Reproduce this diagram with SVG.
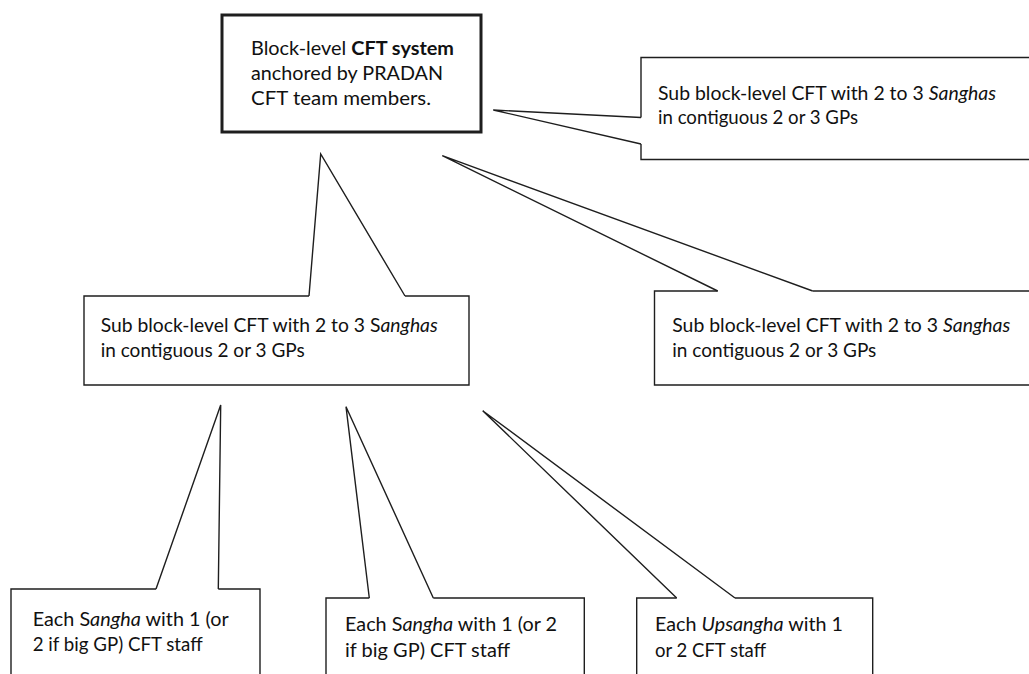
<svg xmlns="http://www.w3.org/2000/svg" width="1029" height="674" viewBox="0 0 1029 674">
<style>
.bg{fill:#ffffff;stroke:none}
.ol{fill:none;stroke:#1e1e1e;stroke-width:1.4;stroke-linejoin:miter}
.thick{fill:#ffffff;stroke:#1e1e1e;stroke-width:3}
.tail{fill:none;stroke:#1e1e1e;stroke-width:1.4;stroke-linejoin:miter}
.t{font-family:Lato,"Liberation Sans",Arial,sans-serif;font-size:18.5px;fill:#111111}
.i{font-style:italic}
.b{font-weight:bold}
</style>
<rect x="0" y="0" width="1029" height="674" fill="#ffffff"/>
<g id="node-block">
<rect class="thick" x="222" y="15" width="259" height="117"/>
<text class="t" x="251" y="55" textLength="203" lengthAdjust="spacingAndGlyphs">Block-level <tspan class="b">CFT system</tspan></text>
<text class="t" x="251" y="80" textLength="192" lengthAdjust="spacingAndGlyphs">anchored by PRADAN</text>
<text class="t" x="251" y="105" textLength="180" lengthAdjust="spacingAndGlyphs">CFT team members.</text>
</g>
<g id="node-subblock-top-right">
<rect class="bg" x="641" y="57.5" width="400" height="102"/>
<path class="ol" d="M641,117.5 V57.5 H1035 V159.5 H641 V144"/>
<text class="t" x="658" y="99.5" textLength="338" lengthAdjust="spacingAndGlyphs">Sub block-level CFT with 2 to 3 <tspan class="i">Sanghas</tspan></text>
<text class="t" x="658" y="124" textLength="200" lengthAdjust="spacingAndGlyphs">in contiguous 2 or 3 GPs</text>
</g>
<g id="node-subblock-left">
<rect class="bg" x="84" y="296" width="385" height="89"/>
<path class="ol" d="M309,296 H84 V385 H469 V296 H405"/>
<text class="t" x="100.7" y="332.3" textLength="337" lengthAdjust="spacingAndGlyphs">Sub block-level CFT with 2 to 3 S<tspan class="i">anghas</tspan></text>
<text class="t" x="100.7" y="357.3" textLength="204" lengthAdjust="spacingAndGlyphs">in contiguous 2 or 3 GPs</text>
</g>
<g id="node-subblock-right">
<rect class="bg" x="654.5" y="291" width="390" height="94"/>
<path class="ol" d="M717.7,291 H654.5 V385 H1035 V291 H812.7"/>
<text class="t" x="672.3" y="331.7" textLength="338" lengthAdjust="spacingAndGlyphs">Sub block-level CFT with 2 to 3 <tspan class="i">Sanghas</tspan></text>
<text class="t" x="672.3" y="356.7" textLength="204" lengthAdjust="spacingAndGlyphs">in contiguous 2 or 3 GPs</text>
</g>
<g id="node-sangha-1">
<rect class="bg" x="11" y="589" width="249" height="90"/>
<path class="ol" d="M156,589 H11 V680 H260 V589 H218.3"/>
<text class="t" x="32.7" y="625.7" textLength="196" lengthAdjust="spacingAndGlyphs">Each S<tspan class="i">angha</tspan> with 1 (or</text>
<text class="t" x="32.7" y="651" textLength="170" lengthAdjust="spacingAndGlyphs">2 if big GP) CFT staff</text>
</g>
<g id="node-sangha-2">
<rect class="bg" x="326" y="598" width="258.3" height="80"/>
<path class="ol" d="M369.3,598 H326 V680 H584.3 V598 H433.3"/>
<text class="t" x="345" y="630.7" textLength="212" lengthAdjust="spacingAndGlyphs">Each S<tspan class="i">angha</tspan> with 1 (or 2</text>
<text class="t" x="345" y="656.7" textLength="165" lengthAdjust="spacingAndGlyphs">if big GP) CFT staff</text>
</g>
<g id="node-upsangha">
<rect class="bg" x="636.7" y="598" width="236" height="80"/>
<path class="ol" d="M676.7,598 H636.7 V680 H872.7 V598 H735"/>
<text class="t" x="655" y="631" textLength="188" lengthAdjust="spacingAndGlyphs">Each <tspan class="i">Upsangha</tspan> with 1</text>
<text class="t" x="655" y="656.7" textLength="111" lengthAdjust="spacingAndGlyphs">or 2 CFT staff</text>
</g>
<g id="connectors">
<path class="tail" d="M641,117.5 L493.3,110 L641,144"/>
<path class="tail" d="M309,296 L320.7,154 L405,296"/>
<path class="tail" d="M717.7,291 L442.3,155.7 L812.7,291"/>
<path class="tail" d="M156,589 L220.7,405 L218.3,589"/>
<path class="tail" d="M369.3,598 L346,406.7 L433.3,598"/>
<path class="tail" d="M676.7,598 L482.7,410.7 L735,598"/>
</g>
</svg>
